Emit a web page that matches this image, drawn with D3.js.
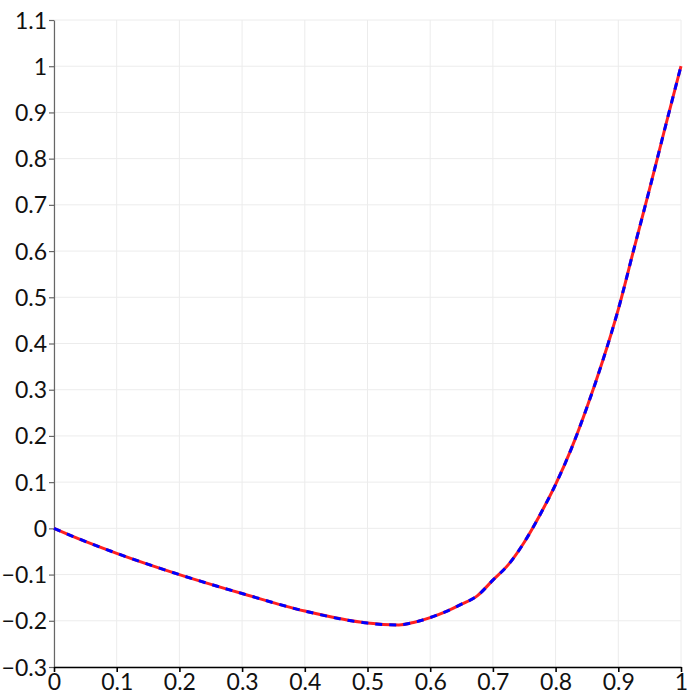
<!DOCTYPE html>
<html lang="en">
<head>
  <meta charset="UTF-8">
  <title>Line plot</title>
  <script src="https://d3js.org/d3.v7.min.js"></script>
  <style>
    body {
      margin: 0;
      padding: 0;
      background: #ffffff;
      font-family: Lato, "Noto Sans", sans-serif;
    }
    .grid line { stroke: #ececec; stroke-width: 1; }
    .axis text { font-size: 23px; fill: #111; font-family: Lato, "Noto Sans", sans-serif; }
    .y-axis path, .y-axis line { stroke: #666; stroke-width: 1.2; }
    .x-axis path, .x-axis line { stroke: #000; stroke-width: 1.6; }
  </style>
</head>
<body>
  <div id="chart"></div>
  <script>
    // curve (same values for both series)
    const xValues = [0, 0.026, 0.057, 0.1, 0.2, 0.3, 0.4, 0.5, 0.525, 0.55, 0.575, 0.6, 0.625, 0.65,
      0.675, 0.7, 0.725, 0.75, 0.775, 0.8, 0.825, 0.85, 0.875, 0.9, 0.925, 0.95, 0.975, 1];
    const seriesA = [0, -0.015, -0.032, -0.054, -0.1, -0.141, -0.179, -0.205, -0.208, -0.209, -0.203,
      -0.193, -0.18, -0.164, -0.146, -0.112, -0.078, -0.03, 0.029, 0.095, 0.172, 0.262, 0.362, 0.474,
      0.605, 0.735, 0.869, 1.0];
    const seriesB = seriesA.slice();
    const xTicks = [0, 0.1, 0.2, 0.3, 0.4, 0.5, 0.6, 0.7, 0.8, 0.9, 1];
    const yTicks = [-0.3, -0.2, -0.1, 0, 0.1, 0.2, 0.3, 0.4, 0.5, 0.6, 0.7, 0.8, 0.9, 1, 1.1];

    const margin = { top: 20, right: 19, bottom: 33, left: 54 },
      width = 700 - margin.left - margin.right,
      height = 700 - margin.top - margin.bottom;

    const svg = d3.select("#chart")
      .append("svg")
      .attr("width", 700)
      .attr("height", 700);

    const g = svg.append("g")
      .attr("transform", `translate(${margin.left}, ${margin.top})`);

    const x = d3.scaleLinear().domain([0, 1]).range([0, width]);
    const y = d3.scaleLinear().domain([-0.3, 1.1]).range([height, 0]);

    const fmt = d => d3.format("~g")(+d.toFixed(1));

    // grid
    g.append("g").attr("class", "grid")
      .selectAll("line.v").data(xTicks).enter().append("line")
      .attr("x1", d => x(d)).attr("x2", d => x(d))
      .attr("y1", 0).attr("y2", height);
    g.append("g").attr("class", "grid")
      .selectAll("line.h").data(yTicks).enter().append("line")
      .attr("x1", 0).attr("x2", width)
      .attr("y1", d => y(d)).attr("y2", d => y(d));

    g.append("g")
      .attr("class", "axis y-axis")
      .call(d3.axisLeft(y).tickValues(yTicks).tickFormat(fmt).tickSize(5).tickSizeOuter(0).tickPadding(2))
      .selectAll("text").attr("dy", "0.35em");

    g.append("g")
      .attr("class", "axis x-axis")
      .attr("transform", `translate(0, ${height})`)
      .call(d3.axisBottom(x).tickValues(xTicks).tickFormat(fmt).tickSize(5).tickSizeOuter(0).tickPadding(2));

    const line = d3.line()
      .x((d, i) => x(xValues[i]))
      .y(d => y(d))
      .curve(d3.curveMonotoneX);

    g.append("path")
      .datum(seriesA)
      .attr("fill", "none")
      .attr("stroke", "#ff2020")
      .attr("stroke-width", 3)
      .attr("d", line);

    g.append("path")
      .datum(seriesB)
      .attr("fill", "none")
      .attr("stroke", "#0000ff")
      .attr("stroke-width", 3)
      .attr("stroke-dasharray", "7,7")
      .attr("d", line);
  </script>
</body>
</html>
